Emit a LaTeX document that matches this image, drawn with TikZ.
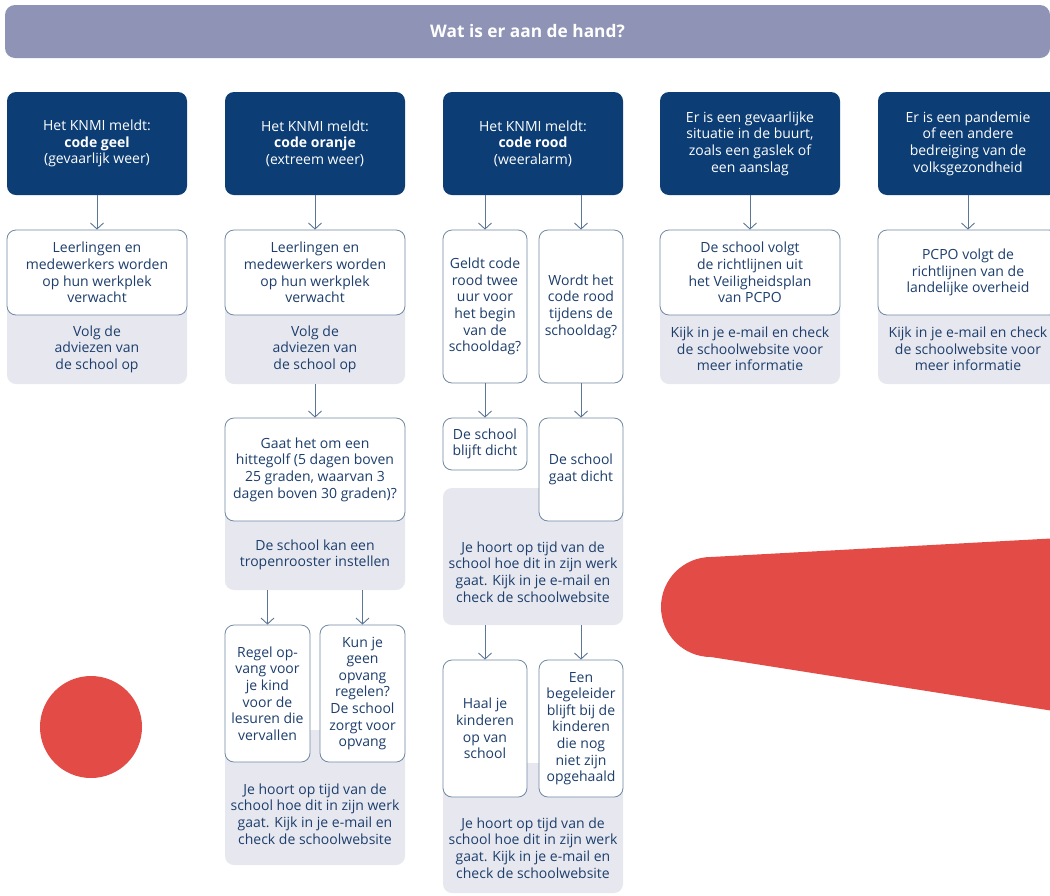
\documentclass[tikz,border=0pt]{standalone}
\usepackage{fontspec}
\setmainfont{Open Sans}
\usetikzlibrary{arrows.meta}
\definecolor{navy}{HTML}{0C3D74}
\definecolor{bannerc}{HTML}{8F93B5}
\definecolor{edgec}{HTML}{7088A2}
\definecolor{panelc}{HTML}{E7E8EF}
\definecolor{redc}{HTML}{E34C46}
\definecolor{ink}{HTML}{1D3E6C}
\definecolor{arrowc}{HTML}{5B7795}
\tikzset{
  txt/.style={align=center, inner sep=0pt, font=\fontsize{14}{16.6}\selectfont},
  navybox/.style={txt, rounded corners=9pt, fill=navy, text=white, minimum width=180pt, minimum height=103pt},
  whitebox/.style={txt, rounded corners=9pt, fill=white, draw=edgec, line width=0.8pt, text=ink},
  panelbox/.style={rounded corners=9pt, fill=panelc, inner sep=0pt},
  paneltext/.style={txt, text=ink},
  conn/.style={draw=arrowc, line width=0.9pt, -{Straight Barb[length=6pt,width=13pt]}},
}
\begin{document}
\begin{tikzpicture}[x=1pt,y=-1pt]
\useasboundingbox (0,0) rectangle (1050,895);
\clip (0,0) rectangle (1050,895);
\fill[white] (0,0) rectangle (1050,895);

% decorative shapes
\fill[redc] (91,727) circle[radius=51];
\fill[redc] (1060,538) -- (711,557) arc[start angle=270, end angle=90, radius=50] -- (1060,712) -- cycle;

% banner
\node[txt, fill=bannerc, rounded corners=10pt, minimum width=1045pt, minimum height=53pt, text=white] (title) at (527.5,31.5)
  {\fontsize{17.3}{20}\selectfont\bfseries Wat is er aan de hand?};

% top navy boxes
\node[navybox] (b1) at (97,143.5) {Het KNMI meldt:\\\textbf{code geel}\\(gevaarlijk weer)};
\node[navybox] (b2) at (315,143.5) {Het KNMI meldt:\\\textbf{code oranje}\\(extreem weer)};
\node[navybox] (b3) at (533,143.5) {Het KNMI meldt:\\\textbf{code rood}\\(weeralarm)};
\node[navybox] (b4) at (750,143.5) {Er is een gevaarlijke\\situatie in de buurt,\\zoals een gaslek of\\een aanslag};
\node[navybox] (b5) at (968,143.5) {Er is een pandemie\\of een andere\\bedreiging van de\\volksgezondheid};

% column 1
\node[panelbox, minimum width=180pt, minimum height=84pt] (p1) at (97,342) {};
\node[whitebox, minimum width=180pt, minimum height=85pt] (w1) at (97,272.5) {Leerlingen en\\medewerkers worden\\op hun werkplek\\verwacht};
\node[paneltext] (t1) at (97,349) {Volg de\\adviezen van\\de school op};
\draw[conn] (b1) -- (w1);

% column 2
\node[panelbox, minimum width=180pt, minimum height=84pt] (p2) at (315,342) {};
\node[whitebox, minimum width=180pt, minimum height=85pt] (w2) at (315,272.5) {Leerlingen en\\medewerkers worden\\op hun werkplek\\verwacht};
\node[paneltext] (t2) at (315,349) {Volg de\\adviezen van\\de school op};
\draw[conn] (b2) -- (w2);

\node[panelbox, minimum width=180pt, minimum height=85pt] (p2b) at (315,547.5) {};
\node[whitebox, minimum width=180pt, minimum height=103pt] (w2b) at (315,469.5) {Gaat het om een\\hittegolf (5 dagen boven\\25 graden, waarvan 3\\dagen boven 30 graden)?};
\node[paneltext] (t2b) at (315,555) {De school kan een\\tropenrooster instellen};
\draw[conn] (p2) -- (w2b);

\node[panelbox, minimum width=180pt, minimum height=135pt] (p2c) at (315,797.5) {};
\node[whitebox, minimum width=85pt, minimum height=137pt] (w2c) at (267.5,693.5) {Regel op-\\vang voor\\je kind\\voor de\\lesuren die\\vervallen};
\node[whitebox, minimum width=85pt, minimum height=137pt] (w2d) at (362.5,693.5) {Kun je\\geen\\opvang\\regelen?\\De school\\zorgt voor\\opvang};
\node[paneltext] (t2c) at (315,814) {Je hoort op tijd van de\\school hoe dit in zijn werk\\gaat. Kijk in je e-mail en\\check de schoolwebsite};
\draw[conn] (p2b.south -| w2c.north) -- (w2c);
\draw[conn] (p2b.south -| w2d.north) -- (w2d);

% column 3
\node[whitebox, minimum width=84pt, minimum height=153pt] (w3a) at (485,306.5) {Geldt code\\rood twee\\uur voor\\het begin\\van de\\schooldag?};
\node[whitebox, minimum width=84pt, minimum height=153pt] (w3b) at (581,306.5) {Wordt het\\code rood\\tijdens de\\schooldag?};
\draw[conn] (b3.south -| w3a.north) -- (w3a);
\draw[conn] (b3.south -| w3b.north) -- (w3b);

\node[panelbox, minimum width=180pt, minimum height=137pt] (p3a) at (533,556.5) {};
\node[whitebox, minimum width=84pt, minimum height=52pt] (w3c) at (485,444) {De school\\blijft dicht};
\node[whitebox, minimum width=84pt, minimum height=103pt] (w3d) at (581,469.5) {De school\\gaat dicht};
\node[paneltext] (t3a) at (533,572) {Je hoort op tijd van de\\school hoe dit in zijn werk\\gaat. Kijk in je e-mail en\\check de schoolwebsite};
\draw[conn] (w3a) -- (w3c);
\draw[conn] (w3b) -- (w3d);

\node[panelbox, minimum width=180pt, minimum height=130pt] (p3b) at (533,828) {};
\node[whitebox, minimum width=84pt, minimum height=137pt] (w3e) at (485,728.5) {Haal je\\kinderen\\op van\\school};
\node[whitebox, minimum width=84pt, minimum height=137pt] (w3f) at (581,728.5) {Een\\begeleider\\blijft bij de\\kinderen\\die nog\\niet zijn\\opgehaald};
\node[paneltext] (t3b) at (533,848) {Je hoort op tijd van de\\school hoe dit in zijn werk\\gaat. Kijk in je e-mail en\\check de schoolwebsite};
\draw[conn] (p3a.south -| w3e.north) -- (w3e);
\draw[conn] (p3a.south -| w3f.north) -- (w3f);

% column 4
\node[panelbox, minimum width=180pt, minimum height=84pt] (p4) at (750,342) {};
\node[whitebox, minimum width=180pt, minimum height=85pt] (w4) at (750,272.5) {De school volgt\\de richtlijnen uit\\het Veiligheidsplan\\van PCPO};
\node[paneltext] (t4) at (750,349) {Kijk in je e-mail en check\\de schoolwebsite voor\\meer informatie};
\draw[conn] (b4) -- (w4);

% column 5
\node[panelbox, minimum width=180pt, minimum height=84pt] (p5) at (968,342) {};
\node[whitebox, minimum width=180pt, minimum height=85pt] (w5) at (968,272.5) {PCPO volgt de\\richtlijnen van de\\landelijke overheid};
\node[paneltext] (t5) at (968,349) {Kijk in je e-mail en check\\de schoolwebsite voor\\meer informatie};
\draw[conn] (b5) -- (w5);
\end{tikzpicture}
\end{document}
